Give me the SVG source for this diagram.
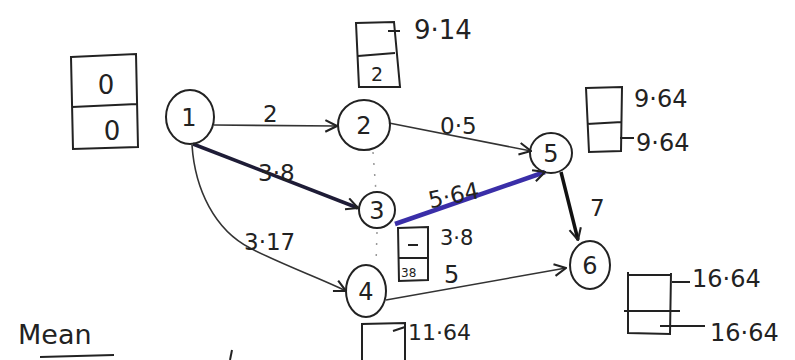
<svg xmlns="http://www.w3.org/2000/svg" width="795" height="360" viewBox="0 0 795 360">
<style>
.c{fill:none;stroke:#222;stroke-width:2}
.b{fill:none;stroke:#222;stroke-width:2}
.e{fill:none;stroke:#333;stroke-width:1.6}
.t{font-family:"DejaVu Sans",sans-serif;fill:#222}
.n{font-size:24px;text-anchor:middle}
.l{font-size:23px}
.s{font-size:24px}
.d{stroke:#999;stroke-width:1.5;stroke-dasharray:2 9;fill:none}
</style>
<defs>
<marker id="a" viewBox="0 0 12 12" refX="11" refY="6" markerWidth="14" markerHeight="14" markerUnits="userSpaceOnUse" orient="auto">
<path d="M1,1 L11,6 L1,11" fill="none" stroke="#222" stroke-width="1.8"/>
</marker>
</defs>
<rect width="795" height="360" fill="#fff"/>
<g id="connectors">
<line class="e" x1="214" y1="125" x2="337" y2="126" marker-end="url(#a)"/>
<text class="t l" x="263" y="122">2</text>
<line class="e" x1="389" y1="123" x2="531" y2="151" marker-end="url(#a)"/>
<text class="t l" x="440" y="134">0·5</text>
<line x1="193" y1="144" x2="358" y2="208" stroke="#1e1c36" stroke-width="3.5" marker-end="url(#a)"/>
<text class="t l" x="258" y="181" fill="#2a2560">3·8</text>
<path class="e" d="M192,145 C195,190 215,230 250,248 S320,278 346,291" marker-end="url(#a)"/>
<text class="t l" x="244" y="250">3·17</text>
<line x1="395" y1="224" x2="545" y2="172" stroke="#3a2ea8" stroke-width="4.5" marker-end="url(#a)"/>
<text class="t l" x="428" y="203" transform="rotate(-12 455 195)">5·64</text>
<line x1="561" y1="172" x2="578" y2="240" stroke="#111" stroke-width="3.5" marker-end="url(#a)"/>
<text class="t l" x="590" y="216">7</text>
<line class="e" x1="386" y1="300" x2="566" y2="268" marker-end="url(#a)"/>
<text class="t s" x="444" y="283">5</text>
<line class="d" x1="373" y1="152" x2="376" y2="192"/>
<line class="d" x1="377" y1="232" x2="376" y2="264"/>
</g>
<g id="n1">
<ellipse class="c" cx="190" cy="117" rx="24" ry="27"/>
<text class="t n" x="189" y="126">1</text>
<path class="b" d="M71,57 L136,54 L138,147 L73,149 Z M72,107 L137,104"/>
<text class="t n" x="106" y="94" style="font-size:26px">0</text>
<text class="t n" x="112" y="140" style="font-size:26px">0</text>
</g>
<g id="n2">
<ellipse class="c" cx="364" cy="125" rx="26" ry="25"/>
<text class="t n" x="364" y="134">2</text>
<path class="b" d="M356,23 L394,22 L400,87 L359,87 Z M358,56 L395,53 M388,31 L400,31"/>
<text class="t n" x="377" y="81" style="font-size:19px">2</text>
<text class="t s" x="414" y="39" style="font-size:26px">9·14</text>
</g>
<g id="n3">
<ellipse class="c" cx="377" cy="210" rx="18" ry="18"/>
<text class="t n" x="377" y="219">3</text>
<path class="b" d="M398,228 L428,227 L428,280 L399,281 Z M399,258 L428,258 M408,245 L418,245"/>
<text class="t" x="401" y="277" style="font-size:12px">38</text>
<text class="t l" x="440" y="245" style="font-size:21px">3·8</text>
</g>
<g id="n4">
<ellipse class="c" cx="366" cy="291" rx="20" ry="26"/>
<text class="t n" x="366" y="300">4</text>
<path class="b" d="M362,360 L362,324 L405,323 L405,360 M393,331 L405,327"/>
<text class="t l" x="408" y="340" style="font-size:22px">11·64</text>
</g>
<g id="n5">
<ellipse class="c" cx="551" cy="153" rx="21" ry="20"/>
<text class="t n" x="551" y="162">5</text>
<path class="b" d="M586,88 L622,87 L621,151 L589,152 Z M587,124 L622,122 M620,138 L634,138"/>
<text class="t s" x="634" y="107">9·64</text>
<text class="t s" x="636" y="151">9·64</text>
</g>
<g id="n6">
<ellipse class="c" cx="590" cy="265" rx="20" ry="24"/>
<text class="t n" x="590" y="274">6</text>
<path class="b" d="M628,272 L628,333 L670,334 L671,273 M628,275 L670,275 M624,311 L680,311 M672,282 L690,282 M660,326 L705,326"/>
<text class="t s" x="692" y="287">16·64</text>
<text class="t s" x="710" y="341">16·64</text>
</g>
<g id="mean">
<text class="t" x="18" y="344" style="font-size:27px">Mean</text>
<line x1="40" y1="357" x2="114" y2="355" stroke="#222" stroke-width="2"/>
<line x1="232" y1="350" x2="230" y2="360" stroke="#222" stroke-width="2"/>
</g>
</svg>
